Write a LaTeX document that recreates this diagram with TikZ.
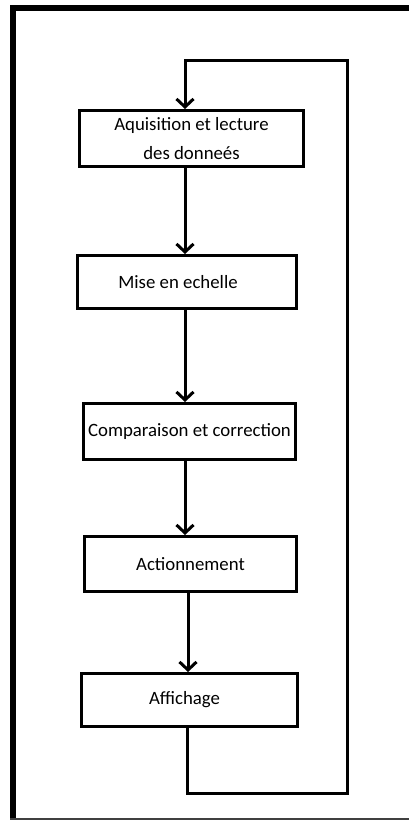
\documentclass[tikz,border=0pt]{standalone}
\usepackage{fontspec}
\setmainfont{Carlito}
\usetikzlibrary{arrows.meta}
\begin{document}
\begin{tikzpicture}[x=1pt,y=-1pt,
  box/.style={draw=black,line width=3pt,rectangle,inner sep=0pt,align=center,
    font=\fontsize{18.8}{29}\selectfont},
  conn/.style={line width=3pt,-{Straight Barb[length=8pt,width=17pt,line width=3pt]}},
  frameline/.style={line width=6pt}]
\useasboundingbox (0,0) rectangle (409,820);
\fill[white] (0,0) rectangle (409,820);
% outer frame
\draw[frameline] (412,8) -- (13,8) -- (13,823);
\draw[line width=1.2pt,black!75] (10,819) -- (412,819);
% boxes
\node[box,minimum width=224pt,minimum height=56pt] (b1) at (191.5,138.5) {Aquisition et lecture\\ des donneés};
\node[box,minimum width=219pt,minimum height=53pt] (b2) at (187,282) {Mise en echelle\hspace*{18pt}};
\node[box,minimum width=212pt,minimum height=56pt] (b3) at (189.5,431.5) {Comparaison et correction};
\node[box,minimum width=212pt,minimum height=55pt] (b4) at (190.5,564) {\raisebox{-5pt}{Actionnement}};
\node[box,minimum width=216pt,minimum height=53pt] (b5) at (189.5,700) {Affichage\hspace*{10pt}};
% helper coordinates
\coordinate (xa) at (185,0);
\coordinate (xb) at (188,0);
\coordinate (xc) at (187,0);
\coordinate (lb) at (347.5,793);
\coordinate (lt) at (347.5,60);
% connectors
\draw[conn] (b1.south -| xa) -- (b2.north -| xa);
\draw[conn] (b2.south -| xa) -- (b3.north -| xa);
\draw[conn] (b3.south -| xa) -- (b4.north -| xa);
\draw[conn] (b4.south -| xb) -- (b5.north -| xb);
% feedback loop
\draw[conn,line join=miter] (b5.south -| xc) -- (lb -| xc) -- (lb) -- (lt) -- (lt -| xa) -- (b1.north -| xa);
\end{tikzpicture}
\end{document}
